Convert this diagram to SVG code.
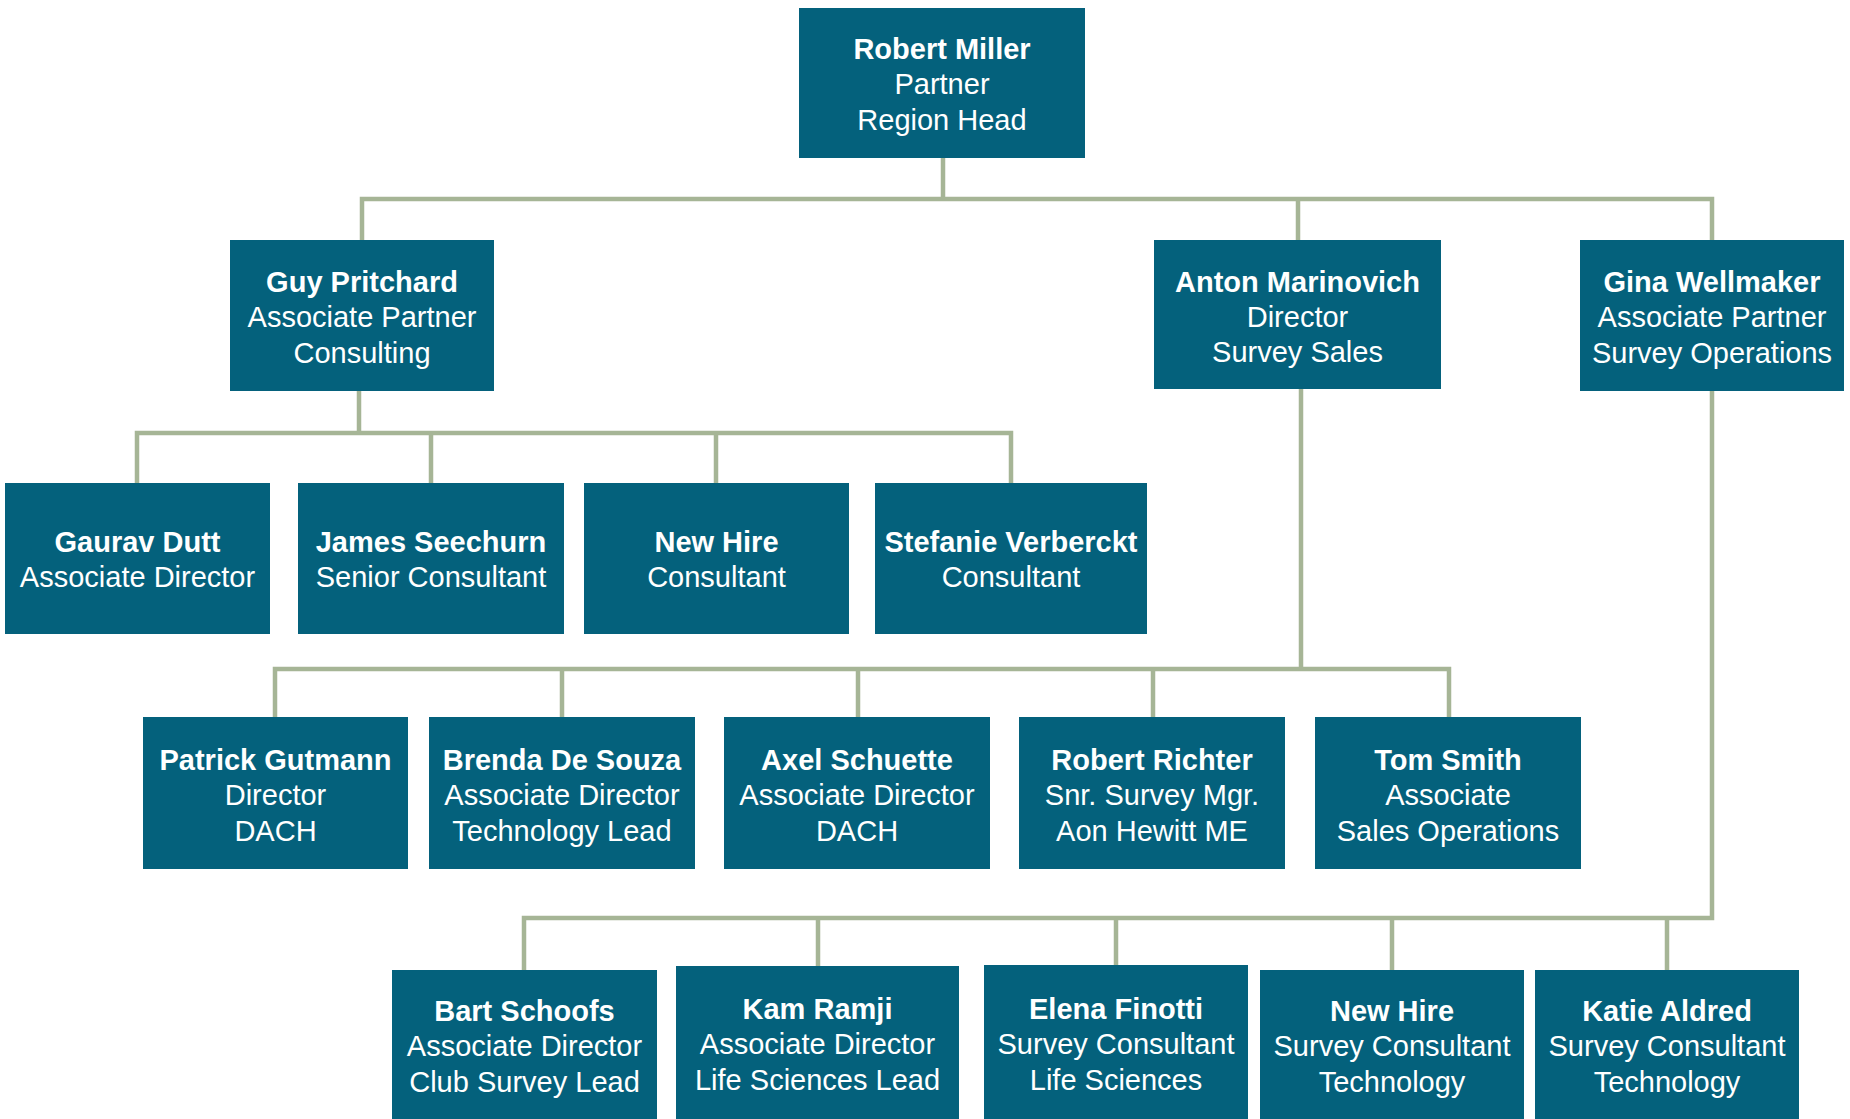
<svg xmlns="http://www.w3.org/2000/svg" width="1850" height="1119" viewBox="0 0 1850 1119">
<style>
.box{fill:#04617c}
.t{font-family:"Liberation Sans",Arial,sans-serif;font-size:29px;fill:#ffffff;text-anchor:middle}
.b{font-weight:bold}
.c{fill:none;stroke:#a6b596;stroke-width:4.5;stroke-linecap:square;stroke-linejoin:miter}
</style>
<rect width="1850" height="1119" fill="#ffffff"/>
<g id="connectors">
<path class="c" d="M943 158V199M362 240V199H1712V240M1298 199V240"/>
<path class="c" d="M359 391V433M137 483V433H1011V483M431 433V483M716 433V483"/>
<path class="c" d="M1301 389V669M275 717V669H1449V717M562 669V717M858 669V717M1153 669V717"/>
<path class="c" d="M1712 391V918H524V970M818 918V966M1116 918V965M1392 918V970M1667 918V970"/>
</g>
<g id="n-robert-miller"><rect class="box" x="799" y="8" width="286" height="150"/>
<text class="t b" x="942" y="59">Robert Miller</text><text class="t" x="942" y="94">Partner</text><text class="t" x="942" y="130">Region Head</text></g>
<g id="n-guy-pritchard"><rect class="box" x="230" y="240" width="264" height="151"/>
<text class="t b" x="362" y="292">Guy Pritchard</text><text class="t" x="362" y="327">Associate Partner</text><text class="t" x="362" y="363">Consulting</text></g>
<g id="n-anton-marinovich"><rect class="box" x="1154" y="240" width="287" height="149"/>
<text class="t b" x="1297.5" y="292">Anton Marinovich</text><text class="t" x="1297.5" y="327">Director</text><text class="t" x="1297.5" y="362">Survey Sales</text></g>
<g id="n-gina-wellmaker"><rect class="box" x="1580" y="240" width="264" height="151"/>
<text class="t b" x="1712" y="292">Gina Wellmaker</text><text class="t" x="1712" y="327">Associate Partner</text><text class="t" x="1712" y="363">Survey Operations</text></g>
<g id="n-gaurav-dutt"><rect class="box" x="5" y="483" width="265" height="151"/>
<text class="t b" x="137.5" y="552">Gaurav Dutt</text><text class="t" x="137.5" y="587">Associate Director</text></g>
<g id="n-james-seechurn"><rect class="box" x="298" y="483" width="266" height="151"/>
<text class="t b" x="431" y="552">James Seechurn</text><text class="t" x="431" y="587">Senior Consultant</text></g>
<g id="n-new-hire-1"><rect class="box" x="584" y="483" width="265" height="151"/>
<text class="t b" x="716.5" y="552">New Hire</text><text class="t" x="716.5" y="587">Consultant</text></g>
<g id="n-stefanie-verberckt"><rect class="box" x="875" y="483" width="272" height="151"/>
<text class="t b" x="1011" y="552">Stefanie Verberckt</text><text class="t" x="1011" y="587">Consultant</text></g>
<g id="n-patrick-gutmann"><rect class="box" x="143" y="717" width="265" height="152"/>
<text class="t b" x="275.5" y="770">Patrick Gutmann</text><text class="t" x="275.5" y="805">Director</text><text class="t" x="275.5" y="841">DACH</text></g>
<g id="n-brenda-de-souza"><rect class="box" x="429" y="717" width="266" height="152"/>
<text class="t b" x="562" y="770">Brenda De Souza</text><text class="t" x="562" y="805">Associate Director</text><text class="t" x="562" y="841">Technology Lead</text></g>
<g id="n-axel-schuette"><rect class="box" x="724" y="717" width="266" height="152"/>
<text class="t b" x="857" y="770">Axel Schuette</text><text class="t" x="857" y="805">Associate Director</text><text class="t" x="857" y="841">DACH</text></g>
<g id="n-robert-richter"><rect class="box" x="1019" y="717" width="266" height="152"/>
<text class="t b" x="1152" y="770">Robert Richter</text><text class="t" x="1152" y="805">Snr. Survey Mgr.</text><text class="t" x="1152" y="841">Aon Hewitt ME</text></g>
<g id="n-tom-smith"><rect class="box" x="1315" y="717" width="266" height="152"/>
<text class="t b" x="1448" y="770">Tom Smith</text><text class="t" x="1448" y="805">Associate</text><text class="t" x="1448" y="841">Sales Operations</text></g>
<g id="n-bart-schoofs"><rect class="box" x="392" y="970" width="265" height="160"/>
<text class="t b" x="524.5" y="1021">Bart Schoofs</text><text class="t" x="524.5" y="1056">Associate Director</text><text class="t" x="524.5" y="1092">Club Survey Lead</text></g>
<g id="n-kam-ramji"><rect class="box" x="676" y="966" width="283" height="160"/>
<text class="t b" x="817.5" y="1019">Kam Ramji</text><text class="t" x="817.5" y="1054">Associate Director</text><text class="t" x="817.5" y="1090">Life Sciences Lead</text></g>
<g id="n-elena-finotti"><rect class="box" x="984" y="965" width="264" height="160"/>
<text class="t b" x="1116" y="1019">Elena Finotti</text><text class="t" x="1116" y="1054">Survey Consultant</text><text class="t" x="1116" y="1090">Life Sciences</text></g>
<g id="n-new-hire-2"><rect class="box" x="1260" y="970" width="264" height="160"/>
<text class="t b" x="1392" y="1021">New Hire</text><text class="t" x="1392" y="1056">Survey Consultant</text><text class="t" x="1392" y="1092">Technology</text></g>
<g id="n-katie-aldred"><rect class="box" x="1535" y="970" width="264" height="160"/>
<text class="t b" x="1667" y="1021">Katie Aldred</text><text class="t" x="1667" y="1056">Survey Consultant</text><text class="t" x="1667" y="1092">Technology</text></g>
</svg>
